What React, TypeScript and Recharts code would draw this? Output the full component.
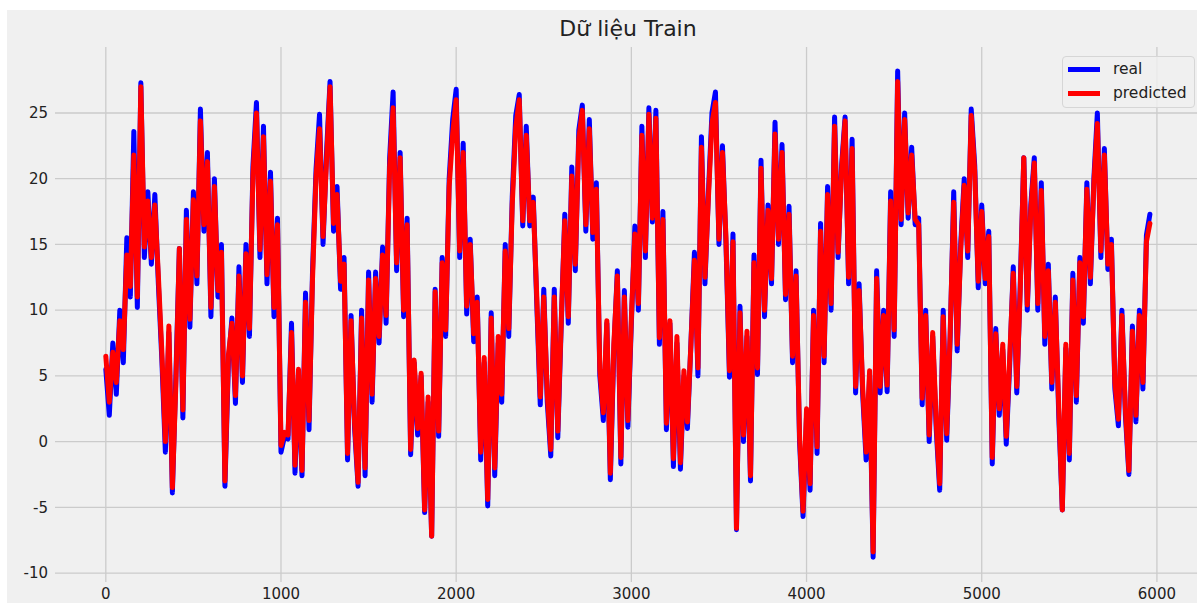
import { LineChart, Line, XAxis, YAxis, CartesianGrid } from 'recharts'

// daily readings, every 20th day kept
const SAMPLE_STEP = 20

const realTemp = [
  5.5, 2, 7.5, 3.6, 10, 6, 15.5, 11, 23.6, 10.2, 27.3, 14, 19, 13.5, 18.8, 12, 6.2, -0.8, 8.3, -3.9,
  5, 14.7, 1.8, 17.6, 8.7, 19, 12, 25.3, 16, 22, 9.5, 20, 11, 15, -3.4, 6, 9.4, 2.9, 13.3, 4.5,
  15, 8, 21, 25.8, 14, 24, 12, 20.5, 9.5, 17, -0.8, 0.4, 0.2, 9, -2.4, 5, -2.6, 11.3, 0.9, 13,
  20.7, 24.9, 15, 22, 27.4, 16, 19.4, 11.6, 14, -1.4, 9.6, 1, -3.4, 10, -2.6, 12.9, 3, 12.9, 7.5, 14.8,
  9, 21.5, 26.6, 13, 22, 9.5, 17, -1, 6, 0.5, 5, -5.4, 3, -7.2, 11.6, 0.4, 14, 8, 20, 24.5,
  26.8, 14, 22.7, 9.7, 15.4, 7.6, 11, -1.4, 6, -4.9, 9.8, -2.6, 7.5, 3, 15, 8, 18.6, 24.8, 26.4, 16.4,
  24, 16.4, 18.6, 10.5, 2.8, 11.6, 3, -1.1, 11.6, 0.3, 9, 17.3, 9, 20.9, 13, 23.7, 25.6, 16, 24.5, 15.4,
  19.7, 5, 1.6, 9, -2.9, 7, 13, -1.7, 11.5, 1.1, 9, 16.4, 10, 24, 14, 25.4, 16.7, 25.2, 7.4, 17.5,
  0.9, 9, -1.9, 7.5, -2.1, 5, 1, 7.5, 14.4, 5, 23.2, 12, 19, 25, 26.6, 15, 22.5, 15.1, 4.9, 15.8,
  -6.7, 10.3, 0, 8, -3, 14.2, 5.1, 21.4, 9.5, 18, 12, 24.3, 15, 22.6, 10.8, 17.9, 6, 13, 0, -5.7,
  2, -3.7, 10, -0.9, 16.6, 6, 19.4, 10, 24.7, 14, 21, 24.7, 12, 23, 3.7, 12, 3.7, -1.4, 5, -8.8,
  13, 3.7, 10, 3.8, 19, 8, 28.2, 16.5, 25, 17, 22.4, 16.5, 17, 2.8, 10, 0, 8, 1, -3.7, 10,
  0.1, 8, 19, 6.9, 15, 20, 14, 25.3, 21, 11.7, 18, 12, 16, -1.7, 8.6, 2, 7, -0.2, 6, 13.3,
  3.7, 12, 21.6, 10, 18, 21.6, 10, 19.7, 7.4, 13.5, 4, 11, 1.8, -5.2, 7.1, -1.4, 12.8, 3, 14, 9,
  19.7, 12, 20, 25, 14, 22.3, 13.1, 15.4, 4, 1.2, 10, 2, -2.5, 8.8, 1.5, 10, 4, 15.7, 17.3,
]

const predictedTemp = [
  6.5, 3, 6.8, 4.5, 9.2, 7, 14.2, 11.8, 21.8, 11, 27, 14.8, 18.3, 14, 18, 12.6, 6.8, 0, 8.8, -3.5,
  4.4, 14.7, 2.4, 16.9, 9.3, 18.4, 12.6, 24.4, 16.5, 21.3, 10.2, 19.4, 11.5, 14.4, -3, 6.6, 9, 3.5, 12.6, 5,
  14.3, 8.6, 20.3, 25, 14.6, 23.2, 12.7, 19.8, 10.2, 16.5, -0.3, 0.7, 0.5, 8.3, -1.8, 5.5, -2.2, 10.6, 1.6, 12.4,
  20.1, 23.8, 15.6, 21.4, 27, 16.6, 18.8, 12.2, 13.5, -0.9, 9.2, 1.5, -3.1, 9.4, -2, 12.3, 3.6, 12.4, 8, 14.2,
  9.6, 20.8, 25.4, 13.6, 21.6, 10, 16.5, -0.6, 6.2, 1, 5.2, -5.2, 3.4, -7.2, 11.4, 0.8, 13.6, 8.5, 19.4, 23.4,
  26, 14.5, 22, 10.3, 15, 8.2, 10.6, -0.8, 6.4, -4.4, 9.4, -2, 8, 3.6, 14.5, 8.6, 18, 23.9, 26, 16.8,
  23.3, 16.8, 18.2, 11, 3.4, 11, 3.6, -0.6, 11, 0.8, 9.3, 16.8, 9.5, 20.2, 13.5, 23, 25.2, 16.5, 23.8, 15.9,
  19.2, 5.5, 2.2, 9.2, -2.4, 7.4, 12.6, -1.2, 11, 1.6, 9.4, 15.8, 10.5, 23.3, 14.5, 24.9, 17, 24.6, 7.9, 16.9,
  1.4, 9.2, -1.3, 8, -1.6, 5.4, 1.5, 7.4, 13.8, 5.6, 22.4, 12.5, 18.6, 24.2, 25.8, 15.4, 22, 15.5, 5.4, 15.2,
  -6.6, 9.8, 0.5, 8.4, -2.6, 13.6, 5.6, 20.8, 10, 17.6, 12.4, 23.4, 15.4, 22, 11.2, 17.3, 6.5, 12.6, 0.5, -5.3,
  2.5, -3.2, 9.6, -0.4, 16, 6.5, 18.8, 10.5, 24, 14.4, 20.6, 24.4, 12.5, 22.3, 4.2, 11.5, 4.2, -0.8, 5.4, -8.4,
  12.4, 4.2, 9.6, 4.3, 18.3, 8.5, 27.4, 16.9, 24.5, 17.4, 21.8, 16.9, 16.5, 3.3, 9.6, 0.5, 8.3, 1.5, -3.2, 9.5,
  0.6, 8.3, 18.2, 7.4, 14.6, 19.5, 14.5, 24.8, 20.5, 12.2, 17.5, 12.4, 15.6, -1.2, 8.2, 2.5, 7.4, 0.4, 6.5, 12.8,
  4.2, 11.6, 21.6, 10.4, 17.6, 21.2, 10.5, 19.1, 8, 13, 4.5, 10.6, 2.5, -5.2, 7.4, -0.9, 12.3, 3.5, 13.6, 9.5,
  19.2, 12.5, 19.6, 24.2, 14.5, 21.8, 13.5, 15, 4.5, 1.7, 9.6, 2.5, -2.2, 8.4, 2, 9.6, 4.5, 15.2, 16.6,
]

const xTicks = [0, 1000, 2000, 3000, 4000, 5000, 6000]
const yTicks = [-10, -5, 0, 5, 10, 15, 20, 25]

const rows = realTemp.map((real, i) => ({
  day: i * SAMPLE_STEP,
  real,
  predicted: predictedTemp[i],
}))

const FONT = '"DejaVu Sans", sans-serif'
const tickStyle = { fill: '#222222', fontSize: 15, fontFamily: FONT }

function LegendBox() {
  const item = (color: string, label: string, top: number) => (
    <div style={{ position: 'absolute', left: 5, top, display: 'flex', alignItems: 'center' }}>
      <div style={{ width: 32, height: 5, background: color }} />
      <span style={{ marginLeft: 13, fontSize: 15.5, color: '#222222', lineHeight: '18px' }}>{label}</span>
    </div>
  )
  return (
    <div
      style={{
        position: 'absolute',
        left: 1062,
        top: 56,
        width: 133,
        height: 52,
        boxSizing: 'border-box',
        border: '1px solid #d6d6d6',
        borderRadius: 4,
        background: 'rgba(240,240,240,0.8)',
        fontFamily: FONT,
      }}
    >
      {item('#0000ff', 'real', 3)}
      {item('#ff0000', 'predicted', 27)}
    </div>
  )
}

export default function App() {
  return (
    <div
      style={{
        position: 'absolute',
        left: 0,
        top: 0,
        width: 1197,
        height: 603,
        overflow: 'hidden',
        background: '#ffffff',
        fontFamily: FONT,
      }}
    >
      <div style={{ position: 'absolute', left: 7, top: 10, right: 0, bottom: 0, background: '#f0f0f0' }} />
      <div
        style={{
          position: 'absolute',
          left: 428,
          top: 18,
          width: 400,
          textAlign: 'center',
          fontSize: 22,
          lineHeight: '22px',
          color: '#222222',
        }}
      >
        Dữ liệu Train
      </div>
      <div style={{ position: 'absolute', left: 0, top: 0 }}>
        <LineChart width={1203} height={603} data={rows} margin={{ top: 47, right: 0, bottom: 0, left: 5 }}>
          <CartesianGrid stroke="#cbcbcb" strokeWidth={1.3} syncWithTicks />
          <XAxis
            dataKey="day"
            type="number"
            domain={[-290, 6263]}
            ticks={xTicks}
            allowDataOverflow
            height={21}
            tick={tickStyle}
            tickLine={false}
            axisLine={false}
            tickSize={4}
            tickMargin={2}
          />
          <YAxis
            type="number"
            domain={[-10.68, 30.02]}
            ticks={yTicks}
            allowDataOverflow
            width={50}
            tick={tickStyle}
            tickLine={false}
            axisLine={false}
            tickSize={5}
            tickMargin={2}
          />
          <Line
            dataKey="real"
            type="linear"
            stroke="#0000ff"
            strokeWidth={5}
            strokeLinejoin="round"
            strokeLinecap="round"
            dot={false}
            isAnimationActive={false}
          />
          <Line
            dataKey="predicted"
            type="linear"
            stroke="#ff0000"
            strokeWidth={5}
            strokeLinejoin="round"
            strokeLinecap="round"
            dot={false}
            isAnimationActive={false}
          />
        </LineChart>
      </div>
      <LegendBox />
    </div>
  )
}
